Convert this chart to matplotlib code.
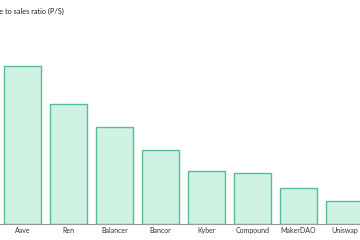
import matplotlib.pyplot as plt

# price to sales ratios (arbitrary scale)
protocols = ["Aave", "Ren", "Balancer", "Bancor", "Kyber", "Compound", "MakerDAO", "Uniswap"]
ps_ratio = [79, 60, 48.5, 37, 26.5, 25.5, 18, 11.5]

plt.rcParams['font.family'] = ['Lato', 'DejaVu Sans']

fig = plt.figure(figsize=(3.6, 2.4), dpi=100)
ax = fig.add_axes([0, 16 / 240, 1, 224 / 240])

ax.bar(range(len(protocols)), ps_ratio, width=0.8,
       color="#cff2e3", edgecolor="#52bf94", linewidth=1.0)

ax.set_xlim(-0.5 + 0.5 / 46, (360 - 22.5) / 46)
ax.set_ylim(0, 112)

for side in ["top", "right", "left"]:
    ax.spines[side].set_visible(False)
ax.spines["bottom"].set_color("#999999")
ax.spines["bottom"].set_linewidth(0.8)

ax.set_xticks(range(len(protocols)))
ax.set_xticklabels(protocols, fontsize=5, color="#333333")
ax.tick_params(axis="x", length=0, pad=2)
ax.set_yticks([])

# title is partly cut off at the left edge in the original
fig.text(-0.037, 1 - 11 / 240, "Price to sales ratio (P/S)", fontsize=5.3,
         color="#222222", va="center", ha="left")

fig.savefig("out.png", dpi=100)
